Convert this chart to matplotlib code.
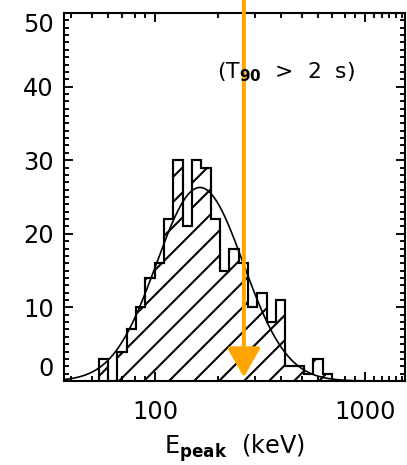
import numpy as np
import matplotlib
matplotlib.use("Agg")
import matplotlib.pyplot as plt
from matplotlib.ticker import FixedLocator, NullFormatter

# ---- data ----
bin_edges_kev = [53.9, 59.7, 66.2, 73.3, 81.2, 90.0, 99.7, 110.4, 122.3, 135.5,
                 150.1, 166.3, 184.2, 204.0, 226.0, 250.4, 277.3, 307.2, 340.3,
                 377.0, 417.6, 462.6, 512.5, 567.6, 628.9, 696.6]
counts = [3, 0, 4, 7, 10, 14, 16, 22, 30, 21, 30, 29, 22, 15, 18, 16, 10, 12, 8,
          11, 2, 2, 1, 3, 1]
# log-normal fit parameters (peak energy, width in dex, amplitude)
fit_center_kev = 163.7
fit_sigma_dex = 0.207
fit_amplitude = 26.3
arrow_energy_kev = 265.0
x_ticks = [100, 1000]
x_tick_labels = ["100", "1000"]
y_ticks = [0, 10, 20, 30, 40, 50]
y_tick_labels = ["0", "10", "20", "30", "40", "50"]
annotation = r"(T$_{\mathbf{90}}$  >  2  s)"
x_label = r"E$_{\mathbf{peak}}$  (keV)"

plt.rcParams["font.family"] = ["DejaVu Sans"]
plt.rcParams["hatch.linewidth"] = 1.0

DPI = 150
fig = plt.figure(figsize=(407 / DPI, 465 / DPI), dpi=DPI)
ax = fig.add_axes([64 / 407, 1 - 381 / 465, (405 - 64) / 407, (381 - 13) / 465])

ax.stairs(counts, bin_edges_kev, fill=True, facecolor="white",
          edgecolor="black", hatch="//", linewidth=1.0, baseline=0)
ax.stairs(counts, bin_edges_kev, fill=False, color="black", linewidth=1.0,
          baseline=0)

ax.set_xscale("log")
ax.set_xlim(36.9, 1550)
ax.set_ylim(0, 50)

xs = np.logspace(np.log10(36.9), np.log10(1550), 400)
ys = fit_amplitude * np.exp(-0.5 * ((np.log10(xs) - np.log10(fit_center_kev)) / fit_sigma_dex) ** 2)
ax.plot(xs, ys, color="black", linewidth=0.8)

# orange arrow
ax.annotate("", xy=(arrow_energy_kev, 0.5), xytext=(arrow_energy_kev, 53),
            xycoords="data", textcoords="data", annotation_clip=False,
            arrowprops=dict(arrowstyle="-|>,head_length=1.2,head_width=0.68",
                            mutation_scale=10, lw=1.9, color="#FFA500",
                            shrinkA=0, shrinkB=0))

ax.text(0.449, 0.84, annotation, transform=ax.transAxes, ha="left",
        va="center", fontsize=10.5)

# ticks
ax.xaxis.set_major_locator(FixedLocator(x_ticks))
ax.set_xticklabels(x_tick_labels)
minors = [v * d for d in (10, 100) for v in range(2, 10)] + [1100, 1200, 1300, 1400, 1500]
ax.xaxis.set_minor_locator(FixedLocator(minors))
ax.xaxis.set_minor_formatter(NullFormatter())
ax.yaxis.set_major_locator(FixedLocator(y_ticks))
ax.set_yticklabels(y_tick_labels)
ax.yaxis.set_minor_locator(FixedLocator(np.arange(0, 51, 1)))

ax.tick_params(which="both", direction="in", top=True, right=True,
               labelsize=11.5, width=0.9)
ax.tick_params(which="major", length=4.5)
ax.tick_params(which="minor", length=2.2)
ax.tick_params(axis="x", which="major", pad=9)
ax.tick_params(axis="y", which="major", pad=5)

for sp in ax.spines.values():
    sp.set_linewidth(1.0)

ylabels = ax.get_yticklabels()
ylabels[0].set_va("bottom")
ylabels[-1].set_va("top")

ax.set_xlabel(x_label, fontsize=11.5, labelpad=4)

fig.savefig("out.png", dpi=DPI)
